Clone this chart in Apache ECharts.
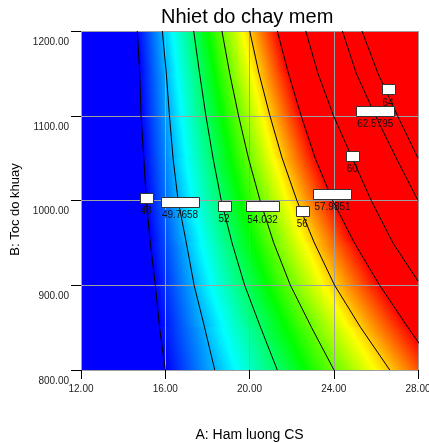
<!DOCTYPE html>
<html>
<head>
<meta charset="utf-8">
<title>Nhiet do chay mem</title>
<script src="https://cdn.jsdelivr.net/npm/echarts@6/dist/echarts.min.js"></script>
<style>
    html, body { margin: 0; padding: 0; background: #fff; }
    #main { width: 429px; height: 443px; }
</style>
</head>
<body>
<div id="main"></div>
<script>
// truc
var aTicks = [12, 16, 20, 24, 28];
var bTicks = [800, 900, 1000, 1100, 1200];

// cac muc duong dong muc
var levels = [48, 49.7658, 52, 54.032, 56, 57.9851, 60, 62.5795, 64];

// duong dong muc, [A, B] doc tu hinh
var c48 = [[14.67, 1200], [14.79, 1150], [14.85, 1100], [14.98, 1050], [15.10, 1000], [15.29, 950], [15.53, 900], [15.73, 850], [16.00, 800]];
var c50 = [[15.86, 1200], [16.05, 1150], [16.20, 1100], [16.37, 1050], [16.61, 1000], [17.00, 950], [17.37, 900], [17.87, 850], [18.35, 800]];
var c52 = [[17.35, 1200], [17.63, 1150], [17.93, 1100], [18.27, 1050], [18.66, 1000], [19.17, 950], [19.77, 900], [20.53, 850], [21.32, 800]];
var c54 = [[18.69, 1200], [19.06, 1150], [19.48, 1100], [19.95, 1050], [20.50, 1000], [21.15, 950], [21.94, 900], [22.95, 850], [24.01, 800]];
var c56 = [[20.01, 1200], [20.45, 1150], [20.97, 1100], [21.55, 1050], [22.25, 1000], [23.08, 950], [24.04, 900], [25.28, 850], [26.66, 800]];
var c58 = [[21.32, 1200], [21.85, 1150], [22.45, 1100], [23.12, 1050], [23.95, 1000], [24.98, 950], [26.18, 900], [27.53, 850], [28.95, 800]];
var c60 = [[22.67, 1200], [23.25, 1150], [23.99, 1100], [24.88, 1050], [25.78, 1000], [26.81, 950], [28.00, 905]];
var c62 = [[24.41, 1200], [25.07, 1150], [25.98, 1100], [26.97, 1050], [28.00, 1000]];
var c64 = [[25.34, 1200], [26.10, 1150], [27.03, 1100], [28.00, 1050]];
var contours = [c48, c50, c52, c54, c56, c58, c60, c62, c64];

// vi tri o nhan
var labelPos = [[15.09, 1003], [16.70, 998], [18.79, 993.5], [20.62, 993], [22.51, 988],
    [23.94, 1007.5], [24.88, 1053], [25.97, 1105.5], [26.58, 1131]];

// thang mau
var colorMin = 48, colorMax = 58;
var colorList = ['#0000ff', '#00ffff', '#00ff00', '#ffff00', '#ff0000'];

function colorAt(v) {
    var t = (v - colorMin) / (colorMax - colorMin);
    t = Math.max(0, Math.min(1, t));
    return echarts.color.lerp(t, colorList);
}

function bandStops(a, b) {
    var stops = [{ offset: 0, color: colorAt(a) }];
    for (var j = 1; j < colorList.length - 1; j++) {
        var v = colorMin + j * (colorMax - colorMin) / (colorList.length - 1);
        if (v > a && v < b) stops.push({ offset: (v - a) / (b - a), color: colorAt(v) });
    }
    stops.push({ offset: 1, color: colorAt(b) });
    return stops;
}

// o mau giua hai duong dong muc lien ke (5 dai x 8 lat)
var fillCells = [];
for (var i = 0; i < 5; i++) {
    for (var k = 0; k < c48.length - 1; k++) {
        fillCells.push([i, k]);
    }
}

var measureCtx = document.createElement('canvas').getContext('2d');
measureCtx.font = '10px Arial';

var div = document.getElementById('main');
var myChart = echarts.init(div, null, { renderer: 'canvas' });

var option = {
    animation: false,
    title: {
        text: 'Nhiet do chay mem',
        left: 156,
        top: 2,
        textStyle: { fontSize: 20, fontWeight: 'normal', color: '#000', fontFamily: 'Arial' }
    },
    grid: {
        left: 81,
        right: 11,
        top: 31,
        bottom: 73,
        outerBoundsMode: 'none',
        show: true,
        backgroundColor: '#ff0000',
        borderWidth: 0
    },
    xAxis: {
        type: 'value',
        min: aTicks[0],
        max: aTicks[aTicks.length - 1],
        interval: aTicks[1] - aTicks[0],
        z: 3,
        name: 'A: Ham luong CS',
        nameLocation: 'middle',
        nameGap: 58,
        nameTextStyle: { fontSize: 14, color: '#000', fontFamily: 'Arial' },
        axisLine: { show: false },
        axisTick: { show: true, length: 9, lineStyle: { color: '#000' } },
        axisLabel: {
            margin: 14,
            fontSize: 10,
            color: '#222',
            fontFamily: 'Arial',
            formatter: function (v) { return v.toFixed(2); }
        },
        splitLine: { show: true, lineStyle: { color: '#a0a0a0', width: 1 } }
    },
    yAxis: {
        type: 'value',
        min: bTicks[0],
        max: bTicks[bTicks.length - 1],
        interval: bTicks[1] - bTicks[0],
        z: 3,
        name: 'B: Toc do khuay',
        nameLocation: 'middle',
        nameGap: 57,
        nameTextStyle: { fontSize: 13, color: '#000', fontFamily: 'Arial', padding: [0, 18, 0, 0] },
        axisLine: { show: false },
        axisTick: { show: true, length: 10, lineStyle: { color: '#000' } },
        axisLabel: {
            margin: 12,
            fontSize: 10,
            color: '#222',
            fontFamily: 'Arial',
            verticalAlign: 'top',
            lineHeight: 22,
            formatter: function (v) { return v.toFixed(2); }
        },
        splitLine: { show: true, lineStyle: { color: '#a0a0a0', width: 1 } }
    },
    series: []
};

// vung xanh ben trai duong 48
option.series.push({
    type: 'custom',
    z: 1,
    silent: true,
    clip: true,
    data: [[0, 0]],
    renderItem: function (params, api) {
        var pts = [api.coord([aTicks[0], bTicks[bTicks.length - 1]])];
        c48.forEach(function (p) { pts.push(api.coord(p)); });
        pts.push(api.coord([aTicks[0], bTicks[0]]));
        return {
            type: 'polygon',
            shape: { points: pts },
            style: { fill: colorList[0], stroke: colorList[0], lineWidth: 1 }
        };
    }
});

// dai mau chuyen tiep
option.series.push({
    type: 'custom',
    z: 1,
    silent: true,
    clip: true,
    data: fillCells,
    renderItem: function (params, api) {
        var i = api.value(0), k = api.value(1);
        var L = contours[i], R = contours[i + 1];
        var l0 = api.coord(L[k]), l1 = api.coord(L[k + 1]);
        var r0 = api.coord(R[k]), r1 = api.coord(R[k + 1]);
        var mx = (l0[0] + l1[0]) / 2, my = (l0[1] + l1[1]) / 2;
        var nx = (r0[0] + r1[0]) / 2, ny = (r0[1] + r1[1]) / 2;
        var dx = (l1[0] - l0[0] + r1[0] - r0[0]) / 2;
        var dy = (l1[1] - l0[1] + r1[1] - r0[1]) / 2;
        var len = Math.sqrt(dx * dx + dy * dy);
        var ux = dy / len, uy = -dx / len;
        var t = (nx - mx) * ux + (ny - my) * uy;
        var grad = new echarts.graphic.LinearGradient(mx, my, mx + ux * t, my + uy * t,
            bandStops(levels[i], levels[i + 1]), true);
        return {
            type: 'polygon',
            shape: { points: [l0, r0, r1, l1] },
            style: { fill: grad, stroke: grad, lineWidth: 1 }
        };
    }
});

// duong dong muc
contours.forEach(function (pts) {
    option.series.push({
        type: 'line',
        z: 4,
        silent: true,
        clip: true,
        symbol: 'none',
        data: pts,
        lineStyle: { color: '#000', width: 1 }
    });
});

// nhan
option.series.push({
    type: 'custom',
    z: 5,
    silent: true,
    data: labelPos,
    renderItem: function (params, api) {
        var p = api.coord([api.value(0), api.value(1)]);
        var txt = String(levels[params.dataIndex]);
        var w = Math.round(measureCtx.measureText(txt).width) + 2;
        return {
            type: 'group',
            children: [
                {
                    type: 'rect',
                    shape: { x: Math.round(p[0] - w / 2) + 0.5, y: Math.round(p[1] - 5) + 0.5, width: w, height: 10 },
                    style: { fill: '#fff', stroke: '#333', lineWidth: 1 }
                },
                {
                    type: 'text',
                    x: p[0],
                    y: p[1] + 13.5,
                    style: {
                        text: txt,
                        fill: '#111',
                        font: '10px Arial',
                        align: 'center',
                        textAlign: 'center',
                        verticalAlign: 'middle',
                        textVerticalAlign: 'middle'
                    }
                }
            ]
        };
    }
});

myChart.setOption(option);
window.addEventListener('resize', myChart.resize);
</script>
</body>
</html>
